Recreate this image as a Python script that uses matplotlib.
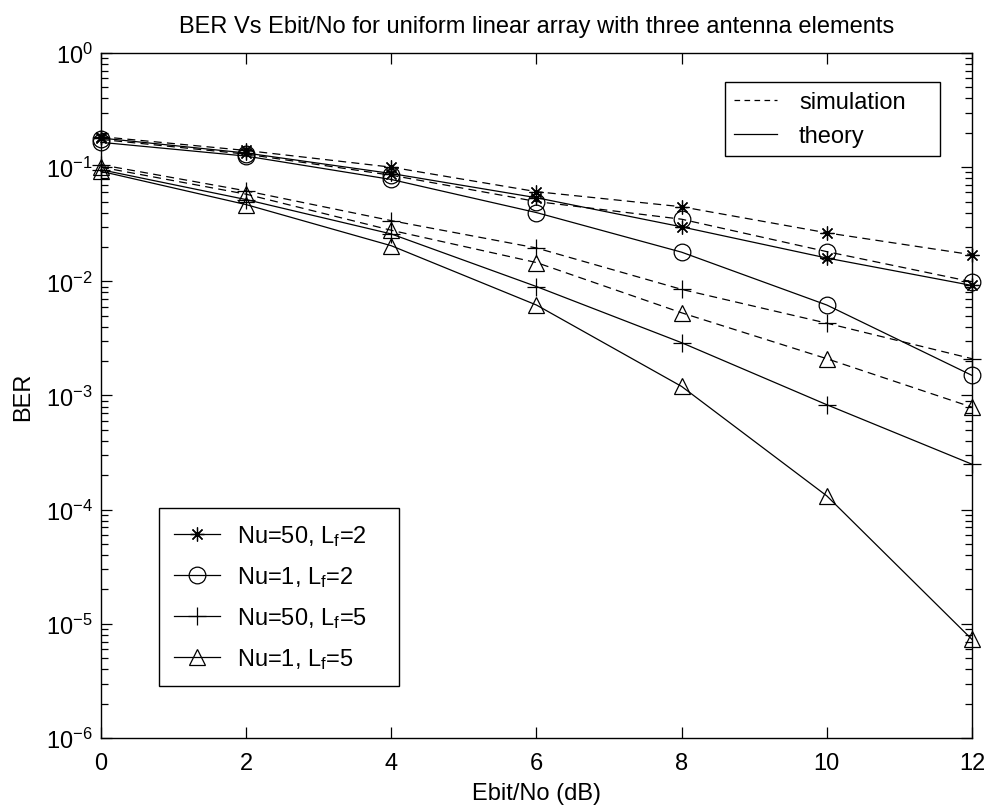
import matplotlib
matplotlib.use("Agg")
import matplotlib.pyplot as plt
from matplotlib.lines import Line2D
from matplotlib.ticker import LogLocator, NullFormatter

plt.rcParams['font.family'] = ['Liberation Sans', 'DejaVu Sans']
plt.rcParams['mathtext.fontset'] = 'custom'
plt.rcParams['mathtext.rm'] = 'Liberation Sans'
plt.rcParams['mathtext.it'] = 'Liberation Sans'

ebno = [0, 2, 4, 6, 8, 10, 12]
yticks = [1e-6, 1e-5, 1e-4, 1e-3, 1e-2, 1e-1, 1e0]

star_sim = [0.185, 0.140, 0.100, 0.061, 0.045, 0.0266, 0.0171]
star_th = [0.180, 0.133, 0.088, 0.054, 0.030, 0.0160, 0.0092]
circ_sim = [0.175, 0.130, 0.085, 0.050, 0.035, 0.0182, 0.0099]
circ_th = [0.165, 0.125, 0.078, 0.040, 0.018, 0.0062, 0.0015]
plus_sim = [0.105, 0.062, 0.034, 0.0196, 0.0085, 0.0043, 0.0021]
plus_th = [0.095, 0.052, 0.026, 0.0090, 0.0029, 0.00083, 0.00025]
tri_sim = [0.100, 0.058, 0.028, 0.0146, 0.0053, 0.0021, 0.00079]
tri_th = [0.092, 0.047, 0.0205, 0.0062, 0.0012, 0.000132, 0.0000073]

labels = ['Nu=50, L$_{\\mathregular{f}}$=2', 'Nu=1, L$_{\\mathregular{f}}$=2',
          'Nu=50, L$_{\\mathregular{f}}$=5', 'Nu=1, L$_{\\mathregular{f}}$=5']
title = 'BER Vs Ebit/No for uniform linear array with three antenna elements'

FS = 17
fig = plt.figure(figsize=(9.86, 8.12), dpi=100)
ax = fig.add_axes([0.1024, 0.0899, 0.8834, 0.8436])

star = (8, 2, 0)
markers = [star, 'o', '+', '^']
msizes = [10, 12, 13, 12]
sims = [star_sim, circ_sim, plus_sim, tri_sim]
ths = [star_th, circ_th, plus_th, tri_th]
dash = (0, (6.4, 4.2))
for m, ms, s, t in zip(markers, msizes, sims, ths):
    ax.plot(ebno, s, linestyle=dash, color='black', lw=0.9, marker=m, ms=ms,
            mfc='none', mec='black', mew=0.9, clip_on=False)
    ax.plot(ebno, t, linestyle='-', color='black', lw=0.9, marker=m, ms=ms,
            mfc='none', mec='black', mew=0.9, clip_on=False)

ax.set_yscale('log')
ax.set_xlim(0, 12)
ax.set_ylim(1e-6, 1)
ax.set_xticks(ebno)
ax.set_yticks(yticks)
ax.yaxis.set_minor_locator(LogLocator(base=10, subs=range(2, 10), numticks=100))
ax.yaxis.set_minor_formatter(NullFormatter())
ax.tick_params(which='both', direction='in', top=True, right=True, labelsize=FS, color='black')
ax.tick_params(which='major', length=8, width=0.9)
ax.tick_params(which='minor', length=5, width=0.9)
ax.tick_params(axis='x', pad=10)
ax.tick_params(axis='y', pad=6)
for sp in ax.spines.values():
    sp.set_linewidth(1.0)
    sp.set_color('black')

ax.set_title(title, fontsize=FS, pad=15)
ax.set_xlabel('Ebit/No (dB)', fontsize=FS, labelpad=6)
ax.set_ylabel('BER', fontsize=FS, labelpad=8)

h1 = [Line2D([], [], color='black', lw=0.9, linestyle=(0, (4.5, 3.5))),
      Line2D([], [], color='black', lw=0.9, linestyle='-')]
leg1 = ax.legend(h1, ['simulation', 'theory'], loc='upper left',
                 bbox_to_anchor=(0.716, 0.848, 0.247, 0.110), mode='expand',
                 borderaxespad=0, fontsize=FS,
                 fancybox=False, framealpha=1, edgecolor='black',
                 handlelength=1.8, handletextpad=0.95, labelspacing=0.5,
                 borderpad=0.4)
leg1.get_frame().set_linewidth(1.0)
ax.add_artist(leg1)

h2 = [Line2D([], [], color='black', lw=0.9, marker=m, ms=ms, mfc='none', mew=0.9)
      for m, ms in zip(markers, msizes)]
leg2 = ax.legend(h2, labels, loc='lower left',
                 bbox_to_anchor=(0.0666, 0.0758, 0.2755, 0.26), mode='expand',
                 borderaxespad=0, fontsize=FS, fancybox=False, framealpha=1,
                 edgecolor='black', handlelength=1.95, handletextpad=0.72,
                 labelspacing=0.68, borderpad=0.65)
leg2.get_frame().set_linewidth(1.0)

fig.savefig('out.png', dpi=100, facecolor='white')
